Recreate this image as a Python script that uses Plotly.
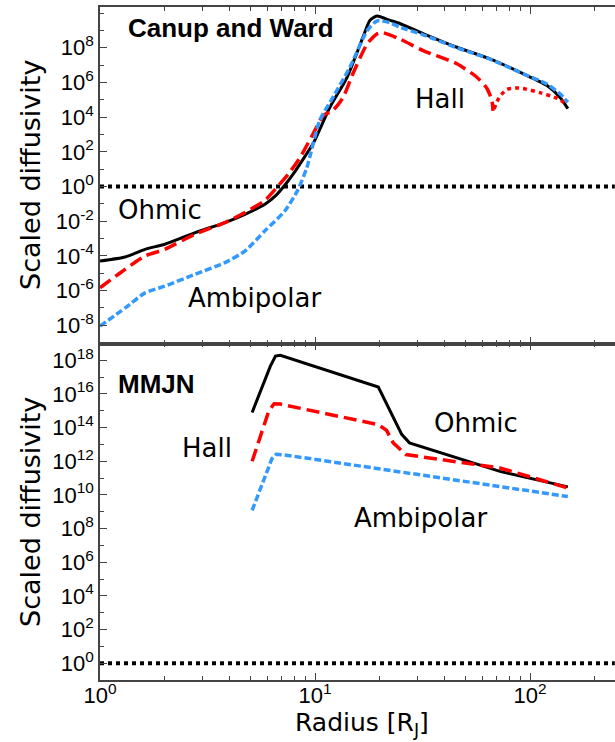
import plotly.graph_objects as go
from plotly.subplots import make_subplots

# ---- Canup and Ward disk: scaled diffusivities vs radius [R_J] ----
r_cw_ohm = [1.0, 1.31, 1.62, 2.0, 2.77, 3.81, 4.72, 5.85, 6.6, 7.2, 8.0, 8.51, 9.8, 11.7,
            14.1, 16.7, 18.0, 19.4, 22.3, 24.8, 31.8, 45.7, 65.2, 92.7, 120, 138, 150]
eta_cw_ohm = [5.1e-5, 8.7e-5, 2.4e-4, 4.7e-4, 2.2e-3, 8.3e-3, 2.5e-2, 9.5e-2, 0.32, 1.1, 6.3,
              20, 3.0e2, 3.5e4, 2.0e6, 4.0e8, 3.8e9, 6.8e9, 3.8e9, 2.5e9, 6.6e8, 1.07e8,
              2.3e7, 3.2e6, 6.6e5, 1.35e5, 3.1e4]

r_cw_hall = [1.0, 1.31, 1.62, 2.0, 2.77, 3.81, 4.72, 5.85, 6.6, 7.6, 8.51, 9.8, 10.9, 12.1,
             13.5, 15.0, 17.5, 19.4, 20.5, 24.8, 31.8, 45.7, 56.6, 63.1, 66.5, 67.3]
eta_cw_hall = [1.45e-6, 1.7e-5, 1.0e-4, 2.4e-4, 1.8e-3, 8.3e-3, 3.2e-2, 0.16, 0.8, 6.3, 46,
               1.1e3, 1.2e4, 2.4e4, 1.35e5, 3.2e6, 1.7e8, 6.3e8, 7.6e8, 3.2e8, 6.9e7, 1.2e7,
               2.0e6, 4.5e5, 8.9e4, 2.3e4]

# Hall term after the sign change (magnitude, drawn dotted)
r_cw_hall_neg = [68.2, 69.5, 72.5, 78.2, 87.0, 92.7, 111, 134, 147]
eta_cw_hall_neg = [3.0e4, 6.0e4, 1.6e5, 4.0e5, 4.8e5, 4.5e5, 2.6e5, 1.2e5, 6.0e4]

r_cw_amb = [1.0, 1.31, 1.62, 2.0, 2.77, 3.81, 4.72, 5.85, 7.25, 8.3, 9.17, 10.5, 12.1, 14.5,
            17.5, 19.4, 22.3, 24.8, 31.8, 45.7, 65.2, 92.7, 120, 138, 150]
eta_cw_amb = [8.9e-9, 1.0e-7, 7.4e-7, 1.8e-6, 8.7e-6, 4.1e-5, 1.9e-4, 2.8e-3, 4.0e-2, 0.6,
              12.6, 6.3e3, 1.35e5, 7.2e6, 1.0e9, 3.5e9, 2.8e9, 1.55e9, 5.6e8, 1.0e8, 2.2e7,
              3.2e6, 8.0e5, 2.2e5, 7.2e4]

# ---- MMJN disk ----
r_mm_ohm = [5.1, 6.2, 6.55, 6.9, 19.7, 25.3, 27.5, 72.5, 150]
eta_mm_ohm = [8.0e14, 4.5e17, 1.8e18, 2.0e18, 2.6e16, 4.0e13, 1.25e13, 2.5e11, 3.0e10]

r_mm_hall = [5.1, 6.1, 6.45, 6.9, 19.7, 21.5, 23.1, 26.5, 72.5, 150]
eta_mm_hall = [1.0e12, 1.0e15, 2.6e15, 2.5e15, 1.5e14, 7.0e13, 1.25e13, 2.5e12, 4.0e11, 2.6e10]

r_mm_amb = [5.1, 6.3, 6.6, 7.2, 150]
eta_mm_amb = [1.2e9, 1.4e12, 2.6e12, 2.4e12, 8.0e9]

# unit reference line
r_unit = [1.0, 248.0]
eta_unit = [1.0, 1.0]

x_ticks = [1, 10, 100]
x_ticktext = ["10<sup>0</sup>", "10<sup>1</sup>", "10<sup>2</sup>"]
x_minor = [2, 3, 4, 5, 6, 7, 8, 9, 20, 30, 40, 50, 60, 70, 80, 90, 200]

top_exp = [-8, -6, -4, -2, 0, 2, 4, 6, 8]
top_minor_exp = [-9, -7, -5, -3, -1, 1, 3, 5, 7, 9, 10]
bot_exp = [0, 2, 4, 6, 8, 10, 12, 14, 16, 18]
bot_minor_exp = [-1, 1, 3, 5, 7, 9, 11, 13, 15, 17, 19]

BLACK = "#000000"
RED = "#ff0000"
BLUE = "#3399ff"
AXIS = "#444444"

fig = make_subplots(rows=2, cols=1, shared_xaxes=True, vertical_spacing=0)


def add_line(x, y, row, color, dash, width=3.5, smooth=True):
    fig.add_trace(
        go.Scatter(
            x=x, y=y, mode="lines",
            line=dict(color=color, dash=dash, width=width,
                      shape="spline" if smooth else "linear",
                      smoothing=0.6 if smooth else None),
            showlegend=False, hoverinfo="skip",
        ),
        row=row, col=1,
    )


for row in (1, 2):
    add_line(r_unit, eta_unit, row, BLACK, "4px,4px", width=4, smooth=False)

add_line(r_cw_ohm, eta_cw_ohm, 1, BLACK, "solid", width=3)
add_line(r_cw_hall, eta_cw_hall, 1, RED, "13px,6px")
add_line(r_cw_hall_neg, eta_cw_hall_neg, 1, RED, "4px,4px")
add_line(r_cw_amb, eta_cw_amb, 1, BLUE, "7px,3px")

add_line(r_mm_ohm, eta_mm_ohm, 2, BLACK, "solid", width=3, smooth=False)
add_line(r_mm_hall, eta_mm_hall, 2, RED, "13px,6px", smooth=False)
add_line(r_mm_amb, eta_mm_amb, 2, BLUE, "7px,3px", smooth=False)

tick_font = dict(family="Liberation Sans, Arial, sans-serif", size=22, color="black")


def exp_text(e):
    return "10<sup>%d</sup>" % e


xaxis_common = dict(
    type="log", range=[0, 2.3953],
    showline=True, linecolor=AXIS, linewidth=1.5, mirror="ticks",
    ticks="inside", ticklen=7, tickwidth=1.2, tickcolor=AXIS,
    tickmode="array", tickvals=x_ticks, ticktext=x_ticktext,
    minor=dict(tickmode="array", tickvals=x_minor, ticks="inside", ticklen=4,
               tickwidth=1.2, tickcolor=AXIS),
    showgrid=False, zeroline=False, tickfont=tick_font,
)
fig.update_xaxes(**xaxis_common, showticklabels=False, row=1, col=1)
fig.update_xaxes(**xaxis_common, showticklabels=True, ticklabelstandoff=-5, row=2, col=1)

yaxis_common = dict(
    type="log", showline=True, linecolor=AXIS, linewidth=1.5, mirror=False,
    ticks="inside", ticklen=7, tickwidth=1.2, tickcolor=AXIS,
    showgrid=False, zeroline=False, tickfont=tick_font, tickmode="array",
)
fig.update_yaxes(
    **yaxis_common, range=[-9.05, 10.35],
    tickvals=[10.0 ** e for e in top_exp],
    ticktext=[exp_text(e) for e in top_exp],
    minor=dict(tickmode="array", tickvals=[10.0 ** e for e in top_minor_exp],
               ticks="inside", ticklen=4, tickwidth=1.2, tickcolor=AXIS),
    row=1, col=1,
)
fig.update_yaxes(
    **yaxis_common, range=[-1, 19],
    tickvals=[10.0 ** e for e in bot_exp],
    ticktext=[exp_text(e) for e in bot_exp],
    minor=dict(tickmode="array", tickvals=[10.0 ** e for e in bot_minor_exp],
               ticks="inside", ticklen=4, tickwidth=1.2, tickcolor=AXIS),
    row=2, col=1,
)

label_font = dict(family="DejaVu Sans, sans-serif", size=26, color="black")
bold_font = dict(family="Liberation Sans, Arial, sans-serif", size=26, color="black",
                 weight="bold")


def note(text, x, y, font, angle=0, yanchor="middle"):
    fig.add_annotation(text=text, x=x, y=y, xref="paper", yref="paper",
                       xanchor="center", yanchor=yanchor, showarrow=False,
                       font=font, textangle=angle)


note("Canup and Ward", 0.2544, 0.9681, bold_font)
note("Ohmic", 0.1165, 0.6984, label_font)
note("Ambipolar", 0.300, 0.5676, label_font)
note("Hall", 0.6602, 0.8633, label_font)
note("MMJN", 0.1097, 0.4391, bold_font)
note("Hall", 0.2087, 0.3440, label_font)
note("Ohmic", 0.7301, 0.3819, label_font)
note("Ambipolar", 0.6233, 0.2407, label_font)
note("Scaled diffusivity", -0.134, 0.7504, dict(label_font, size=27), angle=-90)
note("Scaled diffusivity", -0.136, 0.2496, dict(label_font, size=27), angle=-90)
note("Radius [R<sub>J</sub>]", 0.5087, -0.0919, dict(label_font, size=25),
     yanchor="bottom")

fig.update_layout(
    width=615, height=742,
    margin=dict(l=100, r=0, t=7, b=62),
    paper_bgcolor="white", plot_bgcolor="white",
    showlegend=False,
)

fig.write_html("out.html")
